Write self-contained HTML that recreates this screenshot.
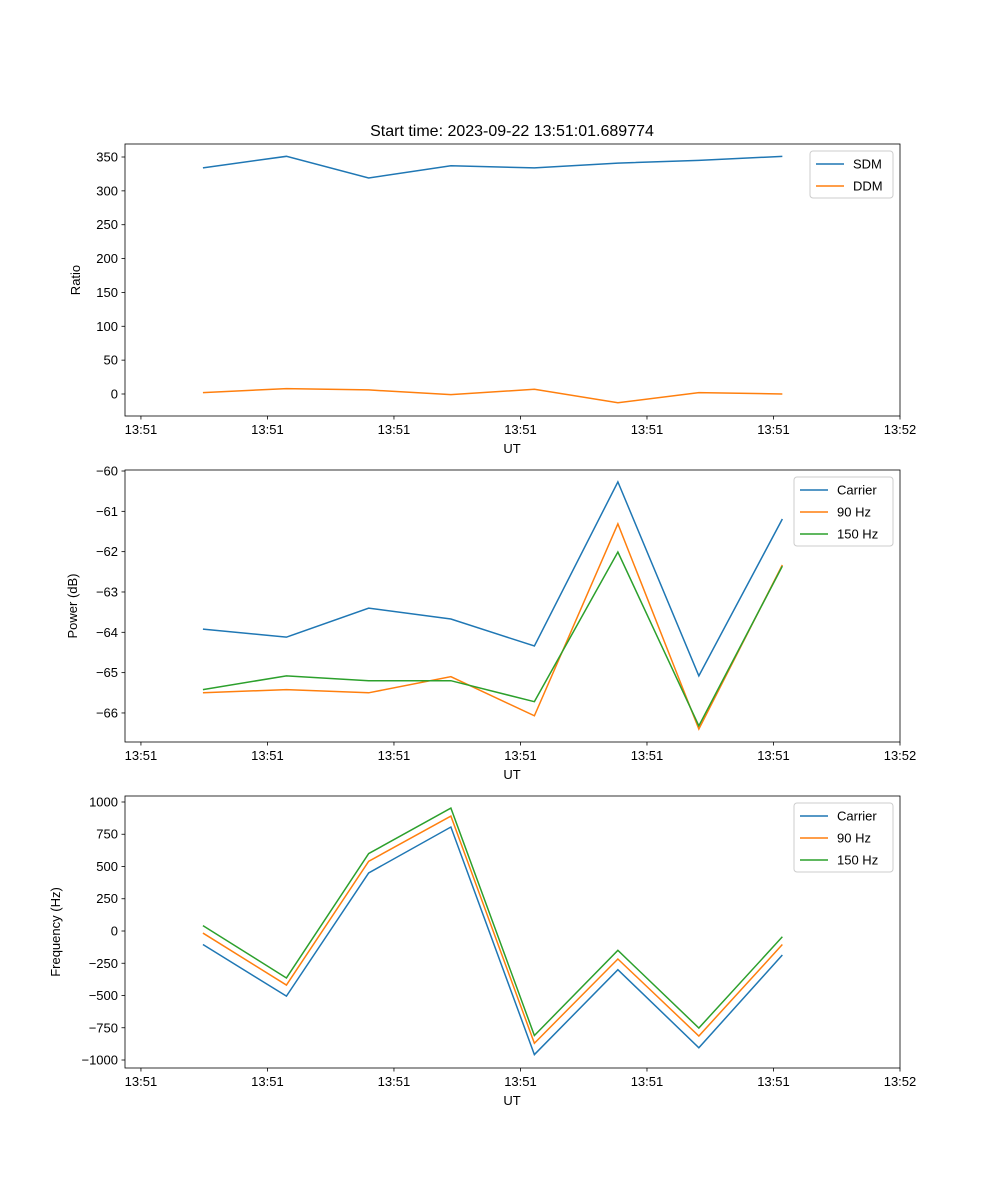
<!DOCTYPE html>
<html><head><meta charset="utf-8"><style>
body{margin:0;background:#fff}
svg{font-family:"Liberation Sans","DejaVu Sans",sans-serif;display:block}
</style></head><body>
<svg id="fig" width="1000" height="1200" viewBox="0 0 1000 1200" xmlns="http://www.w3.org/2000/svg">
<rect width="1000" height="1200" fill="#fff"/>
<text x="512" y="136" font-size="16" text-anchor="middle">Start time: 2023-09-22 13:51:01.689774</text>
</svg>
<script>
const xValues = [0.49, 1.15, 1.80, 2.45, 3.11, 3.77, 4.41, 5.07];
const xTickValues = [0, 1, 2, 3, 4, 5, 6];
const xTickLabels = ["13:51","13:51","13:51","13:51","13:51","13:51","13:52"];
const sdm = [334, 351, 319, 337, 334, 341, 345, 351];
const ddm = [2, 8, 6, -1, 7, -13, 2, 0];
const powCarrier = [-63.92, -64.12, -63.40, -63.67, -64.34, -60.27, -65.08, -61.19];
const pow90 = [-65.50, -65.42, -65.50, -65.10, -66.07, -61.31, -66.40, -62.33];
const pow150 = [-65.42, -65.08, -65.20, -65.20, -65.72, -62.01, -66.32, -62.36];
const freqCarrier = [-105, -505, 450, 806, -958, -300, -905, -186];
const freq90 = [-16, -419, 540, 891, -870, -217, -814, -105];
const freq150 = [42, -364, 600, 953, -810, -150, -752, -45];
const ratioTicks = [0, 50, 100, 150, 200, 250, 300, 350];
const powerTicks = [-66, -65, -64, -63, -62, -61, -60];
const freqTicks = [-1000, -750, -500, -250, 0, 250, 500, 750, 1000];

const NS = "http://www.w3.org/2000/svg";
const svg = document.getElementById('fig');
const L = 125, R = 900, X0 = -0.126, X1 = 6.0;
function xs(v){ return L + (v - X0) / (X1 - X0) * (R - L); }
function mk(tag, attrs, parent){ const e = document.createElementNS(NS, tag); for (const k in attrs) e.setAttribute(k, attrs[k]); (parent||svg).appendChild(e); return e; }

function panel(name, top, bot, y0, y1, yticks, ylabel, series, legend){
  const g = mk('g', {});
  
  
  const ys = v => bot - (v - y0) / (y1 - y0) * (bot - top);
  series.forEach(s => {
    const p = mk('polyline', {points: s.data.map((v,i)=>xs(xValues[i])+','+ys(v)).join(' '), fill:'none', stroke:s.color, 'stroke-width':1.5}, g);
    
    
  });
  const frame = mk('rect', {x:L, y:top, width:R-L, height:bot-top, fill:'none', stroke:'#000', 'stroke-width':0.8}, g);
  
  
  xTickValues.forEach((v,i) => {
    const x = xs(v);
    mk('line', {x1:x, x2:x, y1:bot, y2:bot+3.5, stroke:'#000', 'stroke-width':0.8}, g);
    const t = mk('text', {x:x, y:bot+18, 'font-size':13, 'text-anchor':'middle'}, g);
    t.textContent = xTickLabels[i];
    
    
  });
  yticks.forEach(v => {
    const y = ys(v);
    mk('line', {x1:L-3.5, x2:L, y1:y, y2:y, stroke:'#000', 'stroke-width':0.8}, g);
    const t = mk('text', {x:L-7, y:y+4.5, 'font-size':13, 'text-anchor':'end'}, g);
    t.textContent = String(v).replace('-', '\u2212');
    
    
  });
  const xl = mk('text', {x:512, y:bot+37, 'font-size':13, 'text-anchor':'middle'}, g);
  xl.textContent = 'UT';
  
  
  const yc = (top+bot)/2, ylx = legend.ylx;
  const yl = mk('text', {x:ylx, y:yc, 'font-size':13, 'text-anchor':'middle', transform:'rotate(-90 '+ylx+' '+yc+')'}, g);
  yl.textContent = ylabel;
  
  
  const lg = mk('g', {}, g);
  
  
  const lh = 22 * series.length + 3;
  mk('rect', {x:legend.x, y:top+7, width:R-7-legend.x, height:lh, rx:3, fill:'#fff', stroke:'#ccc', 'stroke-width':1}, lg);
  series.forEach((s,i) => {
    const yy = top + 20 + i*22;
    mk('line', {x1:legend.x+6, x2:legend.x+34, y1:yy, y2:yy, stroke:s.color, 'stroke-width':1.5}, lg);
    const t = mk('text', {x:legend.x+43, y:yy+4.5, 'font-size':13}, lg);
    t.textContent = s.label;
    
    
  });
}
const B='#1f77b4', O='#ff7f0e', G='#2ca02c';
panel('ratio', 144, 416, -32.5, 369.2, ratioTicks, 'Ratio',
  [{key:'sdm',label:'SDM',color:B,data:sdm},{key:'ddm',label:'DDM',color:O,data:ddm}], {x:810, ylx:80});
panel('power', 470, 742, -66.72, -59.975, powerTicks, 'Power (dB)',
  [{key:'carrier',label:'Carrier',color:B,data:powCarrier},{key:'90hz',label:'90 Hz',color:O,data:pow90},{key:'150hz',label:'150 Hz',color:G,data:pow150}], {x:794, ylx:77});
panel('frequency', 796, 1068, -1062, 1046.5, freqTicks, 'Frequency (Hz)',
  [{key:'carrier',label:'Carrier',color:B,data:freqCarrier},{key:'90hz',label:'90 Hz',color:O,data:freq90},{key:'150hz',label:'150 Hz',color:G,data:freq150}], {x:794, ylx:60});
</script>
</body></html>
